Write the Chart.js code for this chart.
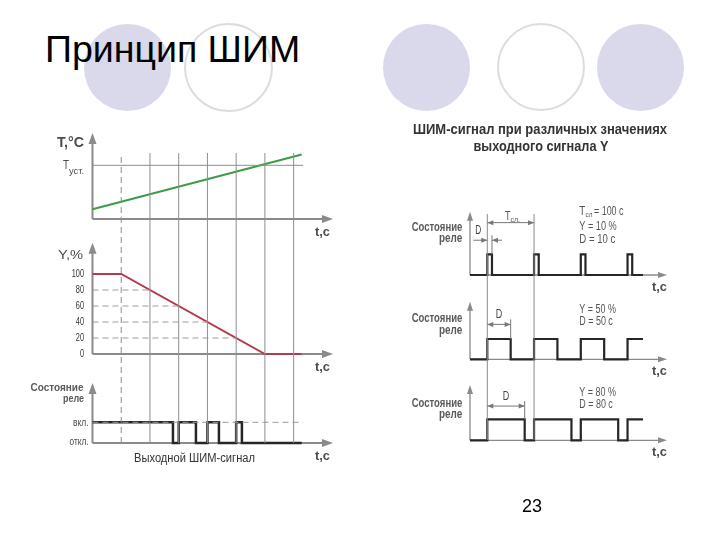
<!DOCTYPE html>
<html>
<head>
<meta charset="utf-8">
<script src="https://cdn.jsdelivr.net/npm/chart.js@4.4.1/dist/chart.umd.min.js"></script>
<style>
  html, body { margin: 0; padding: 0; background: #fff; }
  #slide { position: relative; width: 720px; height: 540px; overflow: hidden; font-family: "Liberation Sans", Arial, sans-serif; }
  .dot { position: absolute; border-radius: 50%; box-sizing: border-box; }
  .fill { background: #d9d9eb; }
  .ring { border: 2.5px solid #dcdce3; background: #fff; }
  #title { position: absolute; left: 45px; top: 29.5px; font-size: 37.5px; line-height: 38px; color: #000; white-space: nowrap; }
  #page { position: absolute; left: 522px; top: 497px; font-size: 18px; line-height: 18px; color: #000; }
  canvas { position: absolute; left: 0; top: 0; }
</style>
</head>
<body>
<div id="slide">
  <div class="dot fill" style="left:84px;top:24px;width:87px;height:87px"></div>
  <div class="dot ring" style="left:184px;top:23px;width:89px;height:89px"></div>
  <div class="dot fill" style="left:383px;top:24px;width:87px;height:87px"></div>
  <div class="dot ring" style="left:497px;top:23px;width:88px;height:88px"></div>
  <div class="dot fill" style="left:597px;top:24px;width:87px;height:87px"></div>
  <div id="title">Принцип ШИМ</div>
  <canvas id="leftChart" width="720" height="540"></canvas>
  <canvas id="rightChart" width="720" height="540"></canvas>
  <div id="page">23</div>
</div>
<script>
// ---- left diagram (time in grid steps) ----
const gridSteps = [2, 3, 4, 5, 6, 7];
const dashedStep = 1;
const tempTime = [0, 7.28];
const tempValue = [18, 120];
const tempSet = 100;
const outTime = [0, 1, 6, 7.28];
const outValue = [100, 100, 0, 0];
const outTicks = [0, 20, 40, 60, 80, 100];
const guideLevel = [80, 60, 40, 20];
const guideTime = [2, 3, 4, 5];
const relayTime = [0, 2.8, 3.0, 3.6, 4.0, 4.4, 5.0, 5.2, 7.28];
const relayState = [1, 0, 1, 0, 1, 0, 1, 0, 0];

// ---- right diagram (time in seconds) ----
const pwmRefTimes = [37, 137];
const pwm10Time = [0, 37, 47, 137, 147, 237, 247, 337, 347, 370];
const pwm10State = [0, 1, 0, 1, 0, 1, 0, 1, 0, 0];
const pwm50Time = [0, 37, 87, 137, 187, 237, 287, 337, 370];
const pwm50State = [0, 1, 0, 1, 0, 1, 0, 1, 1];
const pwm80Time = [0, 37, 117, 137, 217, 237, 317, 337, 370];
const pwm80State = [0, 1, 0, 1, 0, 1, 0, 1, 1];

const CW = 720, CH = 540;
const FONT = '"Liberation Sans", Arial, sans-serif';
const GRID = '#8e8e8e';
const AXIS = '#8a8a8a';
const TEXT = '#4d4d4d';

const pts = (xs, ys) => xs.map((x, i) => ({ x, y: ys[i] }));

// min/max of a hidden axis so that v0 lands on pixel p0 and v1 on p1
function fitAxis(v0, p0, v1, p1, area) {
  const k = (p0 - p1) / (v1 - v0);
  return { min: v0 - (area.bottom - p0) / k, max: v0 + (p0 - area.top) / k };
}

function lineSet(data, yAxisID, color, width, extra) {
  return Object.assign({ data, yAxisID, borderColor: color, borderWidth: width, pointRadius: 0,
    fill: false, clip: false, tension: 0, borderJoinStyle: 'miter' }, extra || {});
}

function arrowHead(ctx, x, y, dir, len, half) {
  ctx.beginPath();
  if (dir === 'up') { ctx.moveTo(x, y); ctx.lineTo(x - half, y + len); ctx.lineTo(x + half, y + len); }
  else if (dir === 'right') { ctx.moveTo(x, y); ctx.lineTo(x - len, y - half); ctx.lineTo(x - len, y + half); }
  else { ctx.moveTo(x, y); ctx.lineTo(x + len, y - half); ctx.lineTo(x + len, y + half); }
  ctx.closePath();
  ctx.fill();
}

function drawAxes(ctx, x, s, top, st) {
  const x0 = x.getPixelForValue(0), y0 = s.getPixelForValue(0);
  const yt = s.getPixelForValue(top), xe = x.getPixelForValue(x.max);
  ctx.strokeStyle = st.color; ctx.fillStyle = st.color; ctx.lineWidth = st.width;
  ctx.beginPath();
  ctx.moveTo(x0, y0); ctx.lineTo(x0, yt + st.len - 1);
  ctx.moveTo(x0, y0); ctx.lineTo(xe - st.len + 1, y0);
  ctx.stroke();
  arrowHead(ctx, x0, yt, 'up', st.len, st.half);
  arrowHead(ctx, xe, y0, 'right', st.len, st.half);
}

// condensed text: squeezed horizontally to a width (w) or by a factor (k)
function label(ctx, str, x, y, size, opts) {
  opts = opts || {};
  ctx.save();
  ctx.font = (opts.bold ? 'bold ' : '') + size + 'px ' + FONT;
  ctx.fillStyle = opts.color || TEXT;
  ctx.textAlign = opts.align || 'left';
  ctx.textBaseline = opts.baseline || 'alphabetic';
  const natural = ctx.measureText(str).width;
  const k = opts.w ? opts.w / natural : (opts.k || 0.8);
  ctx.translate(x, y);
  ctx.scale(k, 1);
  ctx.fillText(str, 0, 0);
  ctx.restore();
  return natural * k;
}

function dimension(ctx, x1, x2, y, outside) {
  ctx.strokeStyle = '#777'; ctx.fillStyle = '#777'; ctx.lineWidth = 1;
  ctx.beginPath();
  if (outside) {
    ctx.moveTo(x1 - 14, y); ctx.lineTo(x1, y);
    ctx.moveTo(x2, y); ctx.lineTo(x2 + 10, y);
  } else {
    ctx.moveTo(x1, y); ctx.lineTo(x2, y);
  }
  ctx.stroke();
  if (outside) { arrowHead(ctx, x1, y, 'right', 6, 2.5); arrowHead(ctx, x2, y, 'left', 6, 2.5); }
  else { arrowHead(ctx, x1, y, 'left', 6, 2.5); arrowHead(ctx, x2, y, 'right', 6, 2.5); }
}

// ================= left chart =================
const leftArea = { left: 92.5, right: 333, top: 153, bottom: 443 };
const leftAxisTops = { yT: 160, yY: 139, yR: 2.9 };

const leftDecor = {
  id: 'leftDecor',
  beforeDatasetsDraw(chart) {
    const { ctx, scales } = chart;
    ctx.save();
    ['yT', 'yY', 'yR'].forEach(id => drawAxes(ctx, scales.x, scales[id], leftAxisTops[id],
      { color: AXIS, width: 2, len: 11, half: 4 }));
    ctx.restore();
  },
  afterDatasetsDraw(chart) {
    const { ctx, scales: { yT, yY, yR } } = chart;
    label(ctx, 'T,°C', 57, 147, 14, { bold: true, w: 27 });
    label(ctx, 'T', 63, 169, 12, { w: 6 });
    label(ctx, 'уст.', 69, 174, 8.5, { w: 15 });
    [yT, yY, yR].forEach(s => label(ctx, 't,c', 315, s.getPixelForValue(0) + 17, 13, { bold: true, w: 15 }));
    label(ctx, 'Y,%', 58, 258.5, 12, { w: 25 });
    outTicks.forEach(v => label(ctx, String(v), 84, yY.getPixelForValue(v), 10.5,
      { align: 'right', baseline: 'middle', color: '#333', k: 0.7 }));
    label(ctx, 'Состояние', 83.5, 391, 11, { bold: true, align: 'right', color: '#5a5a5a', w: 53 });
    label(ctx, 'реле', 84, 402, 11, { bold: true, align: 'right', color: '#5a5a5a', w: 21 });
    label(ctx, 'вкл.', 88.5, yR.getPixelForValue(1) + 3.5, 11, { align: 'right', w: 15.6 });
    label(ctx, 'откл.', 88.5, yR.getPixelForValue(0) + 2, 11, { align: 'right', w: 19 });
    label(ctx, 'Выходной ШИМ-сигнал', 134, 461.5, 12, { color: '#333', w: 121 });
  }
};

const leftSets = [];
gridSteps.forEach(t => leftSets.push(lineSet([{ x: t, y: 0 }, { x: t, y: 1 }], 'yF', GRID, 1)));
leftSets.push(lineSet([{ x: dashedStep, y: 0 }, { x: dashedStep, y: 1 }], 'yF', GRID, 1, { borderDash: [6, 4] }));
leftSets.push(lineSet([{ x: 0, y: tempSet }, { x: 7.33, y: tempSet }], 'yT', GRID, 1));
leftSets.push(lineSet(pts(tempTime, tempValue), 'yT', '#3d9b4a', 2));
guideLevel.forEach((v, i) => leftSets.push(lineSet([{ x: 0, y: v }, { x: guideTime[i], y: v }], 'yY', '#9a9a9a', 1, { borderDash: [6, 4] })));
leftSets.push(lineSet(pts(outTime, outValue), 'yY', '#b43a4c', 2));
leftSets.push(lineSet([{ x: 0, y: 1 }, { x: 7.33, y: 1 }], 'yR', '#9a9a9a', 1, { borderDash: [6, 4] }));
leftSets.push(lineSet(pts(relayTime, relayState), 'yR', '#262626', 2.5, { stepped: true }));

new Chart(document.getElementById('leftChart'), {
  type: 'line',
  data: { datasets: leftSets },
  options: {
    responsive: false,
    animation: false,
    events: [],
    layout: { padding: { left: leftArea.left, right: CW - leftArea.right, top: leftArea.top, bottom: CH - leftArea.bottom } },
    plugins: { legend: { display: false }, tooltip: { enabled: false } },
    scales: {
      x: { type: 'linear', display: false, min: 0, max: 8.37 },
      yF: { display: false, min: 0, max: 1 },
      yT: Object.assign({ display: false }, fitAxis(0, 219, 100, 165.3, leftArea)),
      yY: Object.assign({ display: false }, fitAxis(0, 354, 100, 274, leftArea)),
      yR: Object.assign({ display: false }, fitAxis(0, 443, 1, 422.3, leftArea))
    }
  },
  plugins: [leftDecor]
});

// ================= right chart =================
const rightArea = { left: 470, right: 667, top: 200, bottom: 441 };
const rightPanels = [
  { id: 'yA', time: pwm10Time, state: pwm10State, top: 3.05, name: [230.7, 242],
    notes: ['Y = 10 %', 'D = 10 с'], noteW: [37.4, 36], noteY: [230, 242.5], dEnd: 47, dY: 1.68, outside: true },
  { id: 'yB', time: pwm50Time, state: pwm50State, top: 2.84, name: [322.3, 334],
    notes: ['Y = 50 %', 'D = 50 с'], noteW: [36.7, 33.5], noteY: [313.3, 325], dEnd: 87, dY: 1.72, outside: false },
  { id: 'yC', time: pwm80Time, state: pwm80State, top: 2.63, name: [406.7, 418.3],
    notes: ['Y = 80 %', 'D = 80 с'], noteW: [36.7, 33.5], noteY: [395.7, 407.7], dEnd: 117, dY: 1.63, outside: false }
];

const rightDecor = {
  id: 'rightDecor',
  beforeDatasetsDraw(chart) {
    const { ctx, scales } = chart;
    ctx.save();
    rightPanels.forEach(p => drawAxes(ctx, scales.x, scales[p.id], p.top,
      { color: AXIS, width: 1.3, len: 9, half: 3 }));
    ctx.restore();
  },
  afterDatasetsDraw(chart) {
    const { ctx, scales } = chart;
    const x = scales.x;
    label(ctx, 'ШИМ-сигнал при различных значениях', 413, 134, 14, { bold: true, color: '#333', w: 254 });
    label(ctx, 'выходного сигнала Y', 473.5, 150.5, 14, { bold: true, color: '#333', w: 135 });

    rightPanels.forEach(p => {
      const s = scales[p.id];
      label(ctx, 'Состояние', 462.3, p.name[0], 12, { bold: true, align: 'right', color: '#5a5a5a', w: 50.6 });
      label(ctx, 'реле', 462.3, p.name[1], 12, { bold: true, align: 'right', color: '#5a5a5a', w: 23.3 });
      label(ctx, 't,c', 652, s.getPixelForValue(0) + 15.5, 13, { bold: true, w: 15 });
      // D dimension
      const xa = x.getPixelForValue(pwmRefTimes[0]), xb = x.getPixelForValue(p.dEnd);
      const yd = s.getPixelForValue(p.dY);
      ctx.save();
      ctx.strokeStyle = '#777'; ctx.lineWidth = 1;
      ctx.beginPath(); ctx.moveTo(xb, s.getPixelForValue(1)); ctx.lineTo(xb, yd - 5); ctx.stroke();
      dimension(ctx, xa, xb, yd, p.outside);
      ctx.restore();
      if (p.outside) label(ctx, 'D', xa - 12, yd - 6, 12, { color: '#444', w: 6 });
      else label(ctx, 'D', (xa + xb) / 2, yd - 6, 12, { align: 'center', color: '#444', w: 6.5 });
      // notes
      label(ctx, p.notes[0], 579.3, p.noteY[0], 12, { color: '#555', w: p.noteW[0] });
      label(ctx, p.notes[1], 579.3, p.noteY[1], 12, { color: '#555', w: p.noteW[1] });
    });
    // cycle time note of the first panel
    label(ctx, 'T', 579.3, 215, 12, { color: '#555', w: 6 });
    label(ctx, 'сл', 585.5, 217, 7.5, { color: '#555', w: 7 });
    label(ctx, '= 100 с', 594, 215, 12, { color: '#555', w: 29.5 });

    // period dimension
    const sA = scales.yA;
    const ya = sA.getPixelForValue(2.53);
    const x1 = x.getPixelForValue(pwmRefTimes[0]), x2 = x.getPixelForValue(pwmRefTimes[1]);
    ctx.save();
    dimension(ctx, x1, x2, ya, false);
    ctx.restore();
    label(ctx, 'T', 505, 220, 12, { color: '#555', w: 5.5 });
    label(ctx, 'сл.', 510.5, 222, 7.5, { color: '#555', w: 9.5 });
  }
};

const rightSets = [];
pwmRefTimes.forEach(t => rightSets.push(lineSet([{ x: t, y: 0 }, { x: t, y: 1 }], 'yF', '#8a8a8a', 1)));
rightPanels.forEach(p => rightSets.push(lineSet(pts(p.time, p.state), p.id, '#262626', 2.2, { stepped: true })));

const rightScales = {
  x: { type: 'linear', display: false, min: 0, max: 421.4 },
  yF: Object.assign({ display: false }, fitAxis(0, 440, 1, 214, rightArea)),
  yA: Object.assign({ display: false }, fitAxis(0, 275, 1, 254.3, rightArea)),
  yB: Object.assign({ display: false }, fitAxis(0, 359.3, 1, 339, rightArea)),
  yC: Object.assign({ display: false }, fitAxis(0, 440.3, 1, 419.3, rightArea))
};

new Chart(document.getElementById('rightChart'), {
  type: 'line',
  data: { datasets: rightSets },
  options: {
    responsive: false,
    animation: false,
    events: [],
    layout: { padding: { left: rightArea.left, right: CW - rightArea.right, top: rightArea.top, bottom: CH - rightArea.bottom } },
    plugins: { legend: { display: false }, tooltip: { enabled: false } },
    scales: rightScales
  },
  plugins: [rightDecor]
});
</script>
</body>
</html>
